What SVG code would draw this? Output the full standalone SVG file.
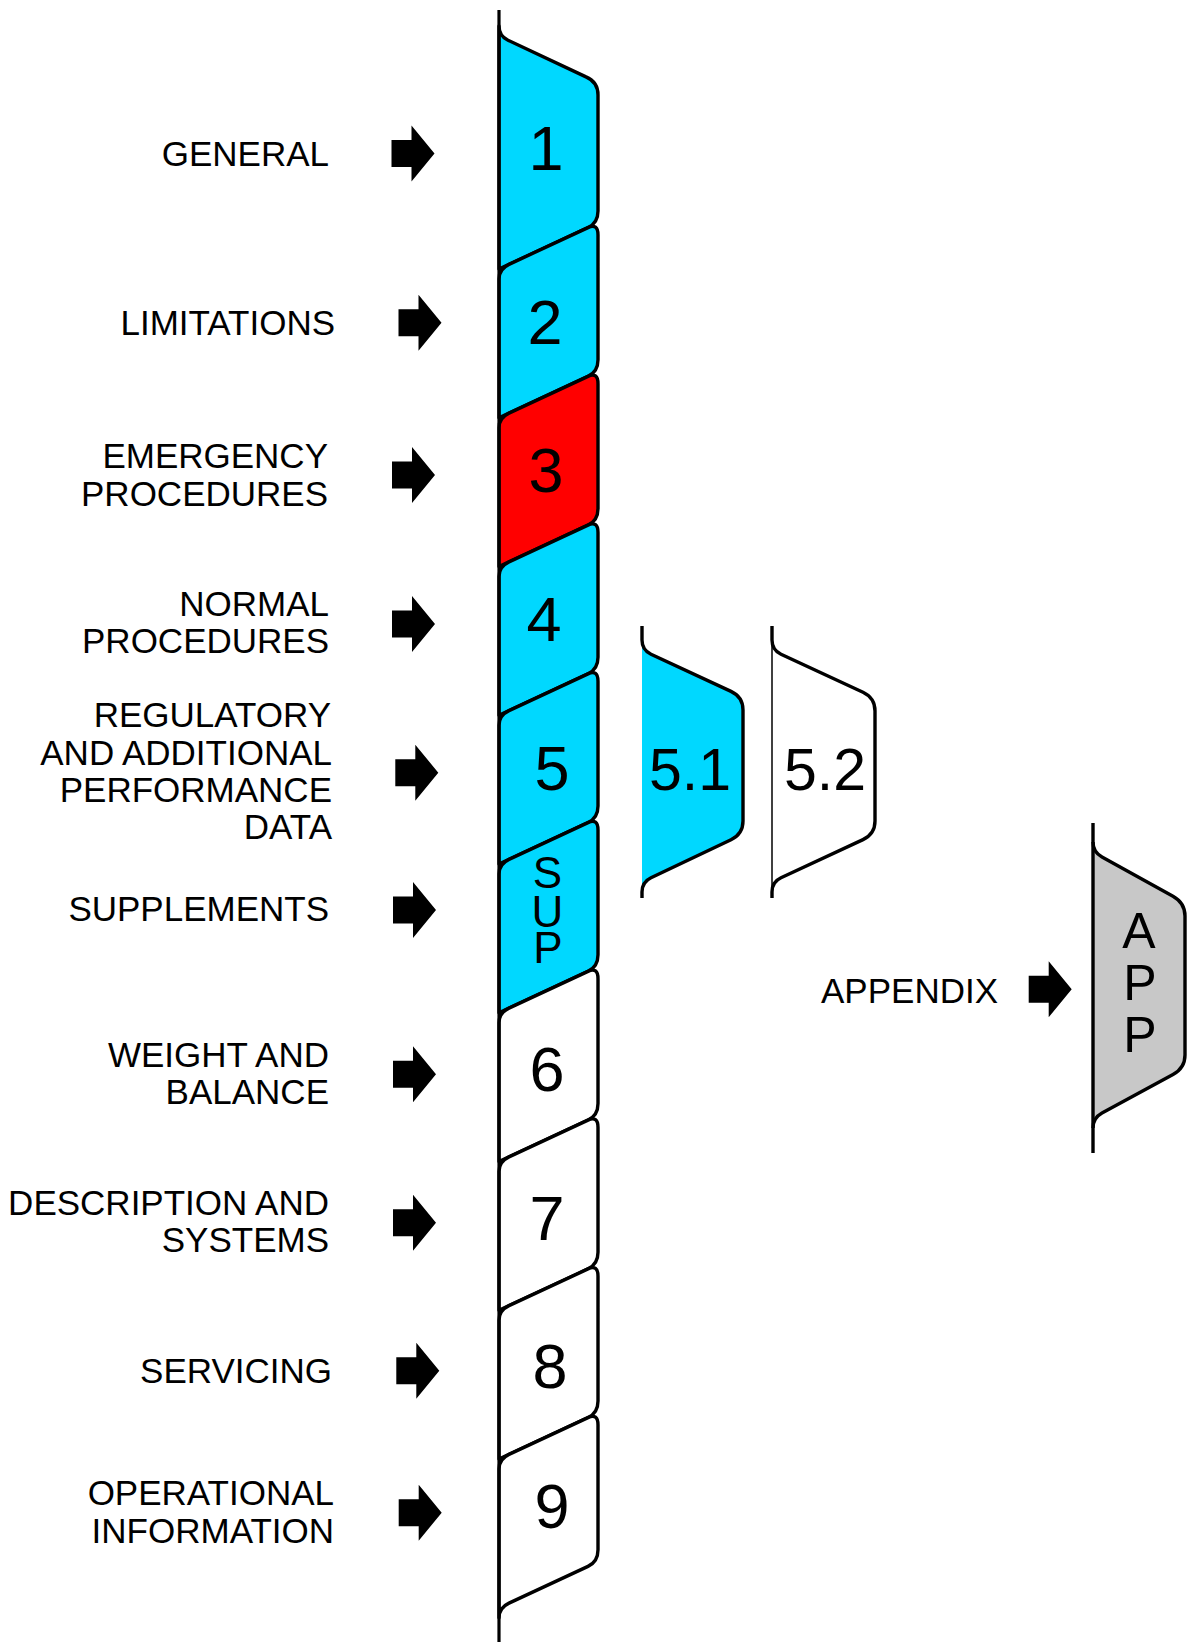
<svg xmlns="http://www.w3.org/2000/svg" xmlns:xlink="http://www.w3.org/1999/xlink" width="1188" height="1642" viewBox="0 0 1188 1642">
  <style>
    .tab { stroke: #000; stroke-width: 3.4; stroke-linejoin: round; }
    .line { fill: none; stroke: #000; stroke-width: 3.4; stroke-linecap: butt; stroke-linejoin: round; }
    .thin { fill: none; stroke: #000; stroke-width: 1.5; }
    .cyan { fill: #00d8ff; }
    .red { fill: #ff0000; }
    .white { fill: #ffffff; }
    .grey { fill: #c8c8c8; }
    .lbl { font-family: "Liberation Sans", Arial, sans-serif; font-size: 35px; fill: #000; text-anchor: end; }
    .num { font-family: "Liberation Sans", Arial, sans-serif; font-size: 63px; fill: #000; text-anchor: middle; }
    .sub { font-family: "Liberation Sans", Arial, sans-serif; font-size: 59px; fill: #000; text-anchor: middle; }
    .vert { font-family: "Liberation Sans", Arial, sans-serif; font-size: 44px; fill: #000; text-anchor: middle; }
    .app { font-family: "Liberation Sans", Arial, sans-serif; font-size: 50px; fill: #000; text-anchor: middle; }
  </style>
  <defs>
    <!-- block arrow, tip at the origin -->
    <path id="arrow" d="M-43,-13.5 H-23 V-28 L0,0 L-23,28 V13.5 H-43 Z" fill="#000"/>
  </defs>

  <rect width="1188" height="1642" fill="#ffffff"/>

  <!-- section tabs along the spine -->
  <g id="tab-1">
    <path class="tab cyan" d="M499,26 Q499,36 508,40.2 L586,76.9 Q598,82 598,95 V211 Q598,223 588,227.65 L499,269 Z"/>
    <text class="num" x="546" y="170">1</text>
  </g>
  <g id="tab-2">
    <path class="tab cyan" d="M588,227.65 Q598,223 598,235 V359.75 Q598,371.75 588,376.4 L499,417.75 V279 Q499,269 509,264.35 Z"/>
    <text class="num" x="545" y="344">2</text>
  </g>
  <g id="tab-3">
    <path class="tab red" d="M588,376.4 Q598,371.75 598,383.75 V508.5 Q598,520.5 588,525.15 L499,566.5 V427.75 Q499,417.75 509,413.1 Z"/>
    <text class="num" x="546" y="491.5">3</text>
  </g>
  <g id="tab-4">
    <path class="tab cyan" d="M588,525.15 Q598,520.5 598,532.5 V657.25 Q598,669.25 588,673.9 L499,715.25 V576.5 Q499,566.5 509,561.85 Z"/>
    <text class="num" x="544" y="640.5">4</text>
  </g>
  <g id="tab-5">
    <path class="tab cyan" d="M588,673.9 Q598,669.25 598,681.25 V806 Q598,818 588,822.65 L499,864 V725.25 Q499,715.25 509,710.6 Z"/>
    <text class="num" x="552" y="790">5</text>
  </g>
  <g id="tab-sup">
    <path class="tab cyan" d="M588,822.65 Q598,818 598,830 V954.75 Q598,966.75 588,971.4 L499,1012.75 V874 Q499,864 509,859.35 Z"/>
    <text class="vert"><tspan x="547.5" y="888">S</tspan><tspan x="547.5" y="927">U</tspan><tspan x="548" y="963">P</tspan></text>
  </g>
  <g id="tab-6">
    <path class="tab white" d="M588,971.4 Q598,966.75 598,978.75 V1103.5 Q598,1115.5 588,1120.15 L499,1161.5 V1022.75 Q499,1012.75 509,1008.1 Z"/>
    <text class="num" x="547" y="1091">6</text>
  </g>
  <g id="tab-7">
    <path class="tab white" d="M588,1120.15 Q598,1115.5 598,1127.5 V1252.25 Q598,1264.25 588,1268.9 L499,1310.25 V1171.5 Q499,1161.5 509,1156.85 Z"/>
    <text class="num" x="547" y="1239.5">7</text>
  </g>
  <g id="tab-8">
    <path class="tab white" d="M588,1268.9 Q598,1264.25 598,1276.25 V1401 Q598,1413 588,1417.65 L499,1459 V1320.25 Q499,1310.25 509,1305.6 Z"/>
    <text class="num" x="550" y="1387.5">8</text>
  </g>
  <g id="tab-9">
    <path class="tab white" d="M588,1417.65 Q598,1413 598,1425 V1549.75 Q598,1561.75 588,1566.4 L509,1603.1 Q499,1607.75 499,1617.75 V1469 Q499,1459 509,1454.35 Z"/>
    <text class="num" x="552" y="1528">9</text>
  </g>

  <!-- spine -->
  <line id="spine" x1="499" y1="10" x2="499" y2="1642" stroke="#000" stroke-width="3.2"/>

  <!-- sub-section tabs of section 5 -->
  <g id="tab-5-1">
    <path class="cyan" d="M642,640 Q642,650 651,654.2 L731,691.4 Q743,697 743,710 V821 Q743,834 731,839.7 L651,877.7 Q642,882 642,892 Z"/>
    <path class="line" d="M642,626 V640 Q642,650 651,654.2 L731,691.4 Q743,697 743,710 V821 Q743,834 731,839.7 L651,877.7 Q642,882 642,892 V898"/>
    <text class="sub" x="690" y="790">5.1</text>
  </g>
  <g id="tab-5-2">
    <path class="white" d="M772,640 Q772,650 781,654.2 L863,692.3 Q875,698 875,711 V821 Q875,834 863,839.6 L781,877.8 Q772,882 772,892 Z"/>
    <path class="thin" d="M772,640 V892"/>
    <path class="line" d="M772,626 V640 Q772,650 781,654.2 L863,692.3 Q875,698 875,711 V821 Q875,834 863,839.6 L781,877.8 Q772,882 772,892 V898"/>
    <text class="sub" x="825" y="790">5.2</text>
  </g>

  <!-- appendix tab -->
  <g id="tab-app">
    <path class="grey" d="M1093,842 Q1093,852 1102,857 L1173,896.3 Q1185,903 1185,916 V1055 Q1185,1068 1173,1074.5 L1102,1113 Q1093,1118 1093,1128 Z"/>
    <path class="line" d="M1093,823 V1153"/>
    <path class="line" d="M1093,842 Q1093,852 1102,857 L1173,896.3 Q1185,903 1185,916 V1055 Q1185,1068 1173,1074.5 L1102,1113 Q1093,1118 1093,1128"/>
    <text class="app"><tspan x="1139" y="947.5">A</tspan><tspan x="1140" y="1000">P</tspan><tspan x="1140" y="1052">P</tspan></text>
  </g>

  <!-- section titles -->
  <g id="label-general"><text class="lbl" x="329" y="165.7">GENERAL</text></g>
  <g id="label-limitations"><text class="lbl" x="335" y="335">LIMITATIONS</text></g>
  <g id="label-emergency">
    <text class="lbl" x="328" y="468.3">EMERGENCY</text>
    <text class="lbl" x="328" y="505.7">PROCEDURES</text>
  </g>
  <g id="label-normal">
    <text class="lbl" x="329" y="615.7">NORMAL</text>
    <text class="lbl" x="329" y="653.3">PROCEDURES</text>
  </g>
  <g id="label-regulatory">
    <text class="lbl" x="331" y="727.3">REGULATORY</text>
    <text class="lbl" x="332" y="765">AND ADDITIONAL</text>
    <text class="lbl" x="332" y="802.3">PERFORMANCE</text>
    <text class="lbl" x="332" y="839.3">DATA</text>
  </g>
  <g id="label-supplements"><text class="lbl" x="329" y="921">SUPPLEMENTS</text></g>
  <g id="label-weight">
    <text class="lbl" x="329" y="1066.7">WEIGHT AND</text>
    <text class="lbl" x="329" y="1104.3">BALANCE</text>
  </g>
  <g id="label-description">
    <text class="lbl" x="329" y="1215">DESCRIPTION AND</text>
    <text class="lbl" x="329" y="1252.3">SYSTEMS</text>
  </g>
  <g id="label-servicing"><text class="lbl" x="332" y="1383.3">SERVICING</text></g>
  <g id="label-operational">
    <text class="lbl" x="334" y="1505">OPERATIONAL</text>
    <text class="lbl" x="334" y="1542.7">INFORMATION</text>
  </g>
  <g id="label-appendix"><text class="lbl" x="998" y="1002.7">APPENDIX</text></g>

  <!-- pointer arrows from titles to tabs -->
  <g id="connectors">
    <use xlink:href="#arrow" transform="translate(434.5,153.5)"/>
    <use xlink:href="#arrow" transform="translate(441.5,322.7)"/>
    <use xlink:href="#arrow" transform="translate(435,475)"/>
    <use xlink:href="#arrow" transform="translate(435,624)"/>
    <use xlink:href="#arrow" transform="translate(438.3,772.7)"/>
    <use xlink:href="#arrow" transform="translate(436,910)"/>
    <use xlink:href="#arrow" transform="translate(436,1074.3)"/>
    <use xlink:href="#arrow" transform="translate(436,1222.7)"/>
    <use xlink:href="#arrow" transform="translate(439.3,1370.7)"/>
    <use xlink:href="#arrow" transform="translate(441.7,1512.7)"/>
    <use xlink:href="#arrow" transform="translate(1071.7,989.3)"/>
  </g>
</svg>
